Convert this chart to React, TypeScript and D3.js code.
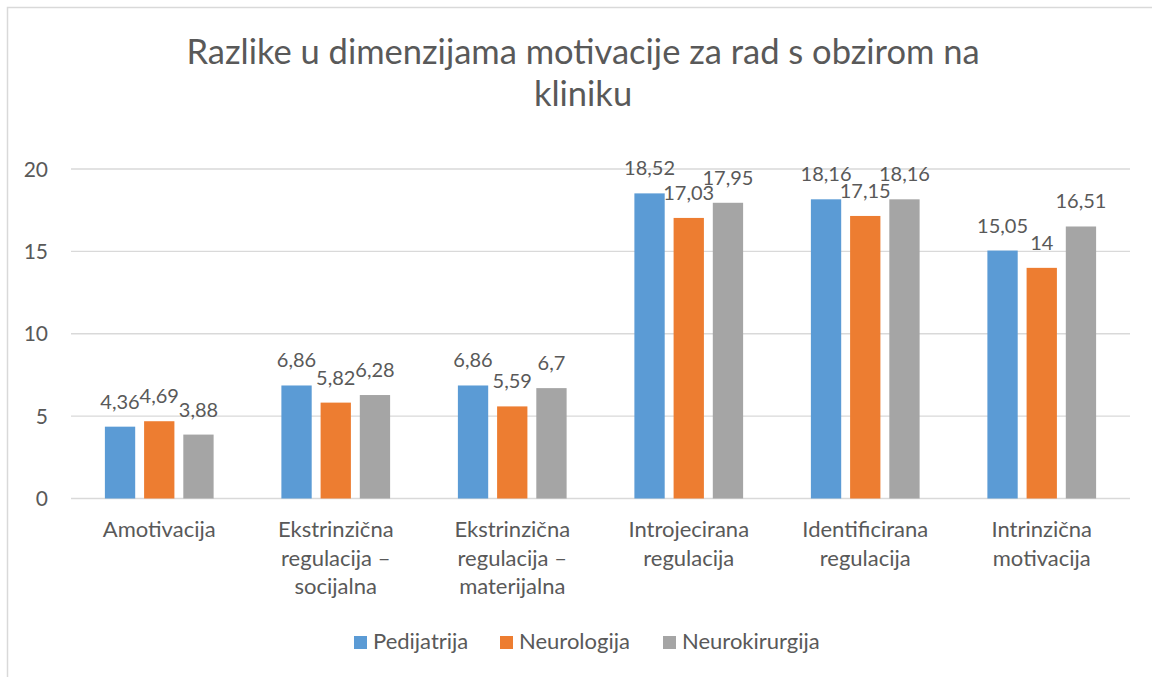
import React from "react";
import * as d3 from "d3";

const categories: string[][] = [
  ["Amotivacija"],
  ["Ekstrinzična", "regulacija –", "socijalna"],
  ["Ekstrinzična", "regulacija –", "materijalna"],
  ["Introjecirana", "regulacija"],
  ["Identificirana", "regulacija"],
  ["Intrinzična", "motivacija"],
];
const seriesNames = ["Pedijatrija", "Neurologija", "Neurokirurgija"];
const seriesColors = ["#5B9BD5", "#ED7D31", "#A5A5A5"];
const pedijatrija = [4.36, 6.86, 6.86, 18.52, 18.16, 15.05];
const neurologija = [4.69, 5.82, 5.59, 17.03, 17.15, 14];
const neurokirurgija = [3.88, 6.28, 6.7, 17.95, 18.16, 16.51];
const yTicks = [0, 5, 10, 15, 20];
const titleLines = ["Razlike u dimenzijama motivacije za rad s obzirom na", "kliniku"];

const FONT = "Lato, 'Noto Sans', sans-serif";
const TEXT = "#595959";

export default function App() {
  const W = 1152, H = 677;
  const left = 71, right = 1130, top = 169, bottom = 498.5;
  const values = [pedijatrija, neurologija, neurokirurgija];
  const catKeys = categories.map((c) => c.join(" "));
  const x = d3.scaleBand<string>().domain(catKeys).range([left, right]).padding(0);
  const y = d3.scaleLinear().domain([0, 20]).range([bottom, top]);
  const groupW = x.bandwidth() * 0.616;
  const fmt = (v: number) => String(v).replace(".", ",");

  const legendItems = [
    { sx: 354, tx: 373 },
    { sx: 500, tx: 519 },
    { sx: 663, tx: 682 },
  ];

  return (
    <svg width={W} height={H} style={{ position: "absolute", left: 0, top: 0, display: "block" }} fontFamily={FONT}>
      <rect x={0} y={0} width={W} height={H} fill="#fff" />
      <rect x={7.5} y={7.5} width={1160} height={700} fill="#fff" stroke="#d9d9d9" strokeWidth={1.5} />
      {titleLines.map((t, i) => (
        <text key={i} x={583} y={64 + i * 42} textAnchor="middle" fontSize={34.5} fill={TEXT}>
          {t}
        </text>
      ))}
      {yTicks.map((t) => (
        <g key={t}>
          <line x1={left} x2={right} y1={y(t)} y2={y(t)} stroke="#d9d9d9" strokeWidth={1.3} />
          <text x={48} y={y(t)} dy="0.36em" textAnchor="end" fontSize={21} fill={TEXT}>
            {t}
          </text>
        </g>
      ))}
      {catKeys.map((ck, ci) => {
        const cx = (x(ck) as number) + x.bandwidth() / 2;
        const inner = d3
          .scaleBand<string>()
          .domain(seriesNames)
          .range([cx - groupW / 2, cx + groupW / 2])
          .paddingInner(0.227)
          .paddingOuter(0);
        return (
          <g key={ck}>
            {seriesNames.map((s, si) => {
              const v = values[si][ci];
              const bx = inner(s) as number;
              return (
                <g key={s}>
                  <rect x={bx} y={y(v)} width={inner.bandwidth()} height={y(0) - y(v)} fill={seriesColors[si]} />
                  <text x={bx + inner.bandwidth() / 2} y={y(v) - 18} textAnchor="middle" fontSize={20} fill={TEXT}>
                    {fmt(v)}
                  </text>
                </g>
              );
            })}
            {categories[ci].map((line, li) => (
              <text key={li} x={cx} y={537 + li * 28.5} textAnchor="middle" fontSize={22} fill={TEXT}>
                {line}
              </text>
            ))}
          </g>
        );
      })}
      {seriesNames.map((s, i) => (
        <g key={s}>
          <rect x={legendItems[i].sx} y={636} width={13} height={13} fill={seriesColors[i]} />
          <text x={legendItems[i].tx} y={649} fontSize={22} fill={TEXT}>
            {s}
          </text>
        </g>
      ))}
    </svg>
  );
}
